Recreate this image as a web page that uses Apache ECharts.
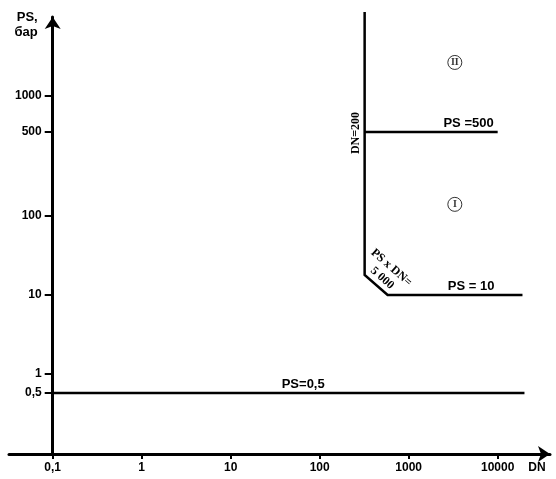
<!DOCTYPE html>
<html><head><meta charset="utf-8">
<script src="https://cdn.jsdelivr.net/npm/echarts@6/dist/echarts.min.js"></script>
<style>html,body{margin:0;padding:0;background:#fff}#chart{width:556px;height:479px}</style>
</head><body><div id="chart"></div>
<script>
// ---- data ----
const xTicks = [0.1, 1, 10, 100, 1000, 10000];
const yTicks = [0.5, 1, 10, 100, 500, 1000];
// PS = 0.5 boundary
const lowDN = [0.1, 20000];
const lowPS = [0.5, 0.5];
// DN = 200 / PS x DN = 5000 / PS = 10 boundary
const boundDN = [320, 320, 580, 19000];
const boundPS = [5000, 18, 10, 10];
// PS = 500 boundary
const highDN = [320, 10000];
const highPS = [500, 500];
// region markers
const regionNames = ['I', 'II'];
const regionDN = [3300, 3300];
const regionPS = [125, 1900];

// ---- scales (schematic log axes) ----
function xT(dn) { return Math.log10(dn) + 1; }
function yT(ps) {
  const l = Math.log10(ps);
  if (l < 0) return 0.8 * l;
  if (l <= 2) return l;
  return 2 + 1.52 * (l - 2);
}
const fmt = v => String(v).replace('.', ',');
const pairs = (xs, ys) => xs.map((x, i) => [xT(x), yT(ys[i])]);
const xTickU = xTicks.map(xT);
const yTickU = yTicks.map(yT);
const labelFor = (us, ticks) => v => {
  for (let i = 0; i < us.length; i++) if (Math.abs(us[i] - v) < 1e-6) return fmt(ticks[i]);
  return '';
};
const seg = (dn1, ps1, dn2, ps2, label) => [
  { coord: [xT(dn1), yT(ps1)], label: label },
  { coord: [xT(dn2), yT(ps2)] }
];
const hidden = { color: 'rgba(0,0,0,0)', width: 0 };
const sans = "'Liberation Sans', Arial, sans-serif";
const serif = "'Liberation Serif', 'Times New Roman', serif";
const lineStyle = { color: '#000', width: 2.5, join: 'miter' };

const option = {
  animation: false,
  backgroundColor: '#fff',
  textStyle: { fontFamily: sans },
  grid: { left: 9, right: 6, top: 17, bottom: 25, containLabel: false, outerBoundsMode: 'none' },
  xAxis: {
    type: 'value', min: -0.491, max: 5.588,
    name: 'DN', nameLocation: 'end', nameGap: -13,
    nameTextStyle: { color: '#000', fontWeight: 'bold', fontSize: 12, align: 'center', verticalAlign: 'top', padding: [8, 0, 0, 0] },
    axisLine: { onZero: false, symbol: ['none', 'arrow'], symbolSize: [12, 12], lineStyle: { color: '#000', width: 3 } },
    axisTick: { customValues: xTickU, length: 5, lineStyle: { color: '#000', width: 2 } },
    axisLabel: { customValues: xTickU, formatter: labelFor(xTickU, xTicks), color: '#000', fontWeight: 'bold', fontSize: 12, margin: 8 },
    splitLine: { show: false }
  },
  yAxis: {
    type: 'value', min: -1.013, max: 4.519, offset: -43.7,
    name: 'PS,\nбар', nameLocation: 'end', nameGap: 7,
    nameTextStyle: { color: '#000', fontWeight: 'bold', fontSize: 13, lineHeight: 15, align: 'right', verticalAlign: 'top', padding: [0, 15, 0, 0] },
    axisLine: { onZero: false, symbol: ['none', 'arrow'], symbolSize: [12, 12], lineStyle: { color: '#000', width: 3 } },
    axisTick: { customValues: yTickU, length: 8, lineStyle: { color: '#000', width: 2 } },
    axisLabel: { customValues: yTickU, formatter: labelFor(yTickU, yTicks), color: '#000', fontWeight: 'bold', fontSize: 12, margin: 11 },
    splitLine: { show: false }
  },
  series: [
    {
      type: 'line', name: 'PS=0,5', data: pairs(lowDN, lowPS), symbol: 'none', silent: true, lineStyle: lineStyle,
      markLine: {
        silent: true, symbol: ['none', 'none'], lineStyle: hidden,
        data: [seg(lowDN[0], lowPS[0], lowDN[1], lowPS[1], {
          show: true, formatter: 'PS=0,5', position: 'insideStartTop', distance: [229, 2],
          color: '#000', fontWeight: 'bold', fontSize: 13, fontFamily: sans
        })]
      }
    },
    {
      type: 'line', name: 'boundary', data: pairs(boundDN, boundPS), symbol: 'none', silent: true, clip: false, lineStyle: lineStyle,
      markLine: {
        silent: true, symbol: ['none', 'none'], lineStyle: hidden,
        data: [
          seg(boundDN[1], boundPS[1], boundDN[1], yTicks[5], {
            show: true, formatter: 'DN=200', position: 'insideEndTop', distance: [16, 3],
            color: '#000', fontWeight: 'bold', fontSize: 12, fontFamily: serif
          }),
          seg(boundDN[1], boundPS[1], boundDN[2], boundPS[2], {
            show: true, formatter: 'PS x DN=\n5 000', position: 'insideMiddleTop', distance: [0, 2],
            color: '#000', fontWeight: 'bold', fontSize: 12, lineHeight: 14, fontFamily: serif
          }),
          seg(boundDN[2], boundPS[2], boundDN[3], boundPS[3], {
            show: true, formatter: 'PS = 10', position: 'insideEndTop', distance: [28, 2],
            color: '#000', fontWeight: 'bold', fontSize: 13, fontFamily: sans
          })
        ]
      }
    },
    {
      type: 'line', name: 'PS=500', data: pairs(highDN, highPS), symbol: 'none', silent: true, lineStyle: lineStyle,
      markLine: {
        silent: true, symbol: ['none', 'none'], lineStyle: hidden,
        data: [seg(highDN[0], highPS[0], highDN[1], highPS[1], {
          show: true, formatter: 'PS =500', position: 'insideEndTop', distance: [4, 2],
          color: '#000', fontWeight: 'bold', fontSize: 13, fontFamily: sans
        })]
      }
    },
    {
      type: 'scatter', name: 'regions', silent: true,
      data: regionNames.map((n, i) => ({ name: n, value: [xT(regionDN[i]), yT(regionPS[i])] })),
      symbol: 'circle', symbolSize: 14,
      itemStyle: { color: '#fff', borderColor: '#000', borderWidth: 1 },
      label: { show: true, position: 'inside', formatter: '{b}', color: '#000', fontSize: 10, fontWeight: 'bold', fontFamily: serif }
    }
  ]
};
const chart = echarts.init(document.getElementById('chart'), null, { renderer: 'canvas' });
chart.setOption(option);
</script>
</body></html>
